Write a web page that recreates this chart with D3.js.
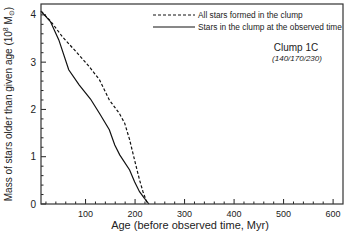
<!DOCTYPE html>
<html>
<head>
<meta charset="utf-8">
<script src="https://cdn.jsdelivr.net/npm/d3@7/dist/d3.min.js"></script>
<style>
  body { margin: 0; background: #fff; }
  svg { display: block; font-family: Arial, "Liberation Sans", sans-serif; }
</style>
</head>
<body>
<div id="chart"></div>
<script>
// all stars formed in the clump (dashed)
const allAge  = [10, 30, 53, 80, 107, 128, 148, 168, 179, 189, 199, 209, 216, 225];
const allMass = [4.08, 3.86, 3.54, 3.23, 2.91, 2.63, 2.20, 1.92, 1.71, 1.36, 0.93, 0.51, 0.26, 0];

// stars in the clump at the observed time (solid)
const obsAge  = [10, 29, 46, 66, 87, 110, 128, 148, 159, 169, 189, 199, 209, 219, 228];
const obsMass = [4.08, 3.86, 3.47, 2.84, 2.52, 2.22, 1.92, 1.57, 1.25, 1.04, 0.72, 0.47, 0.26, 0.12, 0];

const xTicks = [100, 200, 300, 400, 500, 600];
const yTicks = [0, 1, 2, 3, 4];

const W = 349, H = 246;
const m = { left: 41, right: 6, top: 4, bottom: 42 };

const svg = d3.select('#chart').append('svg').attr('width', W).attr('height', H);

const x = d3.scaleLinear().domain([10, 620]).range([m.left, W - m.right]);
const y = d3.scaleLinear().domain([0, 4.23]).range([H - m.bottom, m.top]);

// minor ticks
const xMinor = d3.range(20, 620, 20).filter(v => v % 100 !== 0);
const yMinor = d3.range(0.2, 4.2, 0.2).filter(v => Math.abs(v - Math.round(v)) > 0.01);

const g = svg.append('g').attr('stroke', '#222').attr('stroke-width', 1);
xMinor.forEach(v => g.append('line').attr('x1', x(v)).attr('x2', x(v)).attr('y1', y(0)).attr('y2', y(0) - 2.5));
xTicks.forEach(v => g.append('line').attr('x1', x(v)).attr('x2', x(v)).attr('y1', y(0)).attr('y2', y(0) - 5));
yMinor.forEach(v => g.append('line').attr('y1', y(v)).attr('y2', y(v)).attr('x1', x(10)).attr('x2', x(10) + 2.5));
yTicks.forEach(v => g.append('line').attr('y1', y(v)).attr('y2', y(v)).attr('x1', x(10)).attr('x2', x(10) + 5));

// tick labels
svg.append('g').selectAll('text').data(xTicks).enter().append('text')
  .attr('x', d => x(d)).attr('y', y(0) + 13).attr('text-anchor', 'middle')
  .attr('font-size', 9).attr('fill', '#222').text(d => d);
svg.append('g').selectAll('text').data(yTicks).enter().append('text')
  .attr('x', m.left - 5).attr('y', d => y(d) + 3.5).attr('text-anchor', 'end')
  .attr('font-size', 10).attr('fill', '#222').text(d => d);

// curves
const line = d3.line().x(d => x(d[0])).y(d => y(d[1]));
svg.append('path').datum(d3.zip(allAge, allMass)).attr('d', line)
  .attr('fill', 'none').attr('stroke', '#111').attr('stroke-width', 1.2).attr('stroke-dasharray', '3,2');
svg.append('path').datum(d3.zip(obsAge, obsMass)).attr('d', line)
  .attr('fill', 'none').attr('stroke', '#111').attr('stroke-width', 1.2);

// frame
svg.append('rect').attr('x', m.left).attr('y', m.top)
  .attr('width', W - m.left - m.right).attr('height', H - m.top - m.bottom)
  .attr('fill', 'none').attr('stroke', '#333').attr('stroke-width', 1.2);

// legend
const lg = svg.append('g').attr('font-size', 8.3).attr('fill', '#222');
lg.append('line').attr('x1', 153).attr('x2', 195).attr('y1', 15).attr('y2', 15)
  .attr('stroke', '#111').attr('stroke-width', 1).attr('stroke-dasharray', '3,2');
lg.append('text').attr('x', 198).attr('y', 18).text('All stars formed in the clump');
lg.append('line').attr('x1', 153).attr('x2', 195).attr('y1', 27).attr('y2', 27)
  .attr('stroke', '#111').attr('stroke-width', 1);
lg.append('text').attr('x', 198).attr('y', 30).text('Stars in the clump at the observed time');

svg.append('text').attr('x', 296).attr('y', 51).attr('text-anchor', 'middle')
  .attr('font-size', 10).attr('fill', '#222').text('Clump 1C');
svg.append('text').attr('x', 297).attr('y', 61).attr('text-anchor', 'middle')
  .attr('font-size', 8).attr('font-style', 'italic').attr('fill', '#222').text('(140/170/230)');

// axis titles
svg.append('text').attr('x', 190).attr('y', 229).attr('text-anchor', 'middle')
  .attr('font-size', 11).attr('fill', '#222').text('Age (before observed time, Myr)');
const yl = svg.append('text').attr('transform', `translate(11.5,${(m.top + H - m.bottom) / 2}) rotate(-90)`)
  .attr('text-anchor', 'middle').attr('font-size', 10).attr('fill', '#222');
yl.append('tspan').text('Mass of stars older than given age (10');
yl.append('tspan').attr('font-size', 7).attr('dy', -3.5).text('8');
yl.append('tspan').attr('dy', 3.5).text(' M');
yl.append('tspan').attr('font-size', 7).attr('dy', 2).text('⊙');
yl.append('tspan').attr('dy', -2).text(')');
</script>
</body>
</html>
